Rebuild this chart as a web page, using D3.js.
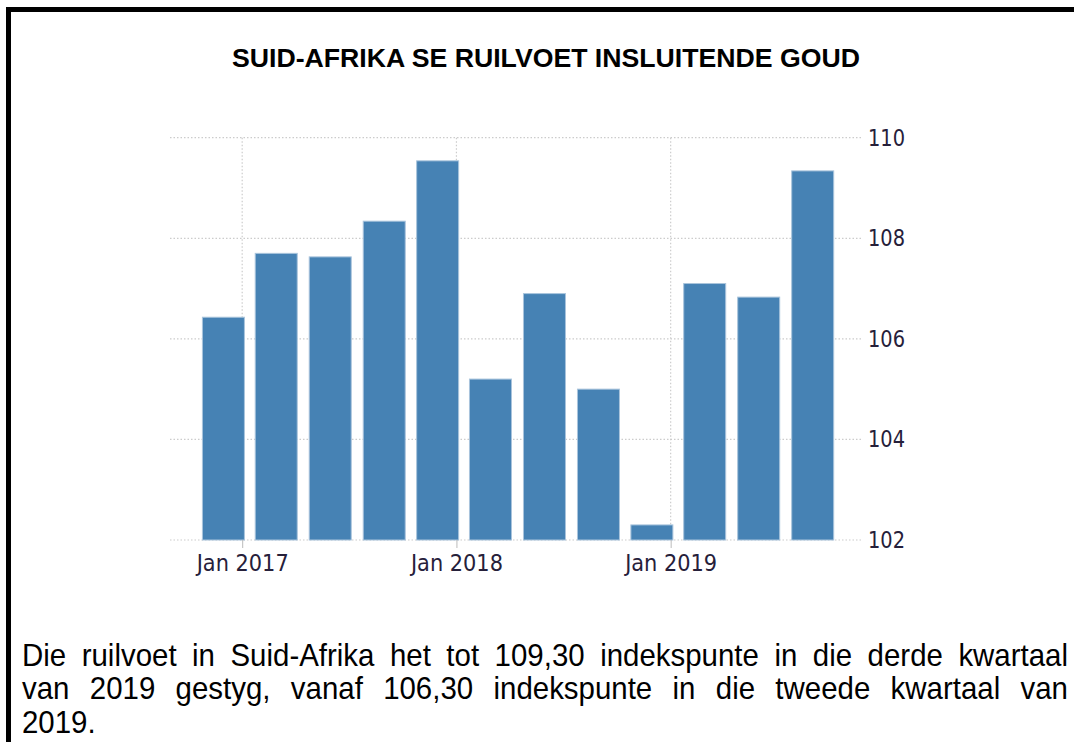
<!DOCTYPE html>
<html>
<head>
<meta charset="utf-8">
<script src="https://cdn.jsdelivr.net/npm/d3@7"></script>
<style>
  body { margin: 0; background: #fff; }
  svg { display: block; }
</style>
</head>
<body>
<div id="chart"></div>
<script>
// quarterly terms of trade incl. gold (index points)
var quarters = ["2016 K4", "2017 K1", "2017 K2", "2017 K3", "2017 K4", "2018 K1",
                "2018 K2", "2018 K3", "2018 K4", "2019 K1", "2019 K2", "2019 K3"];
var barDates = ["2016-11-30", "2017-02-28", "2017-05-31", "2017-08-31", "2017-11-30", "2018-02-28",
                "2018-05-31", "2018-08-31", "2018-11-30", "2019-02-28", "2019-05-31", "2019-08-31"];
var values = [106.43, 107.70, 107.63, 108.34, 109.54, 105.20,
              106.90, 105.00, 102.30, 107.10, 106.83, 109.34];
var yTicks = [102, 104, 106, 108, 110];
var xTicks = ["2017-01-01", "2018-01-01", "2019-01-01"];

var title = "SUID-AFRIKA SE RUILVOET INSLUITENDE GOUD";
var caption = [
  "Die ruilvoet in Suid-Afrika het tot 109,30 indekspunte in die derde kwartaal",
  "van 2019 gestyg, vanaf 106,30 indekspunte in die tweede kwartaal van",
  "2019."
];

var W = 1074, H = 742;
var parse = d3.timeParse("%Y-%m-%d");
var data = quarters.map(function(q, i) {
  return {q: q, date: parse(barDates[i]), value: values[i]};
});

var svg = d3.select("#chart").append("svg")
  .attr("width", W)
  .attr("height", H);

// frame (left + top edge only, as in the scan)
svg.append("path")
  .attr("d", "M8.5," + (H + 5) + "V9.5H" + (W + 5))
  .attr("fill", "none")
  .attr("stroke", "#000")
  .attr("stroke-width", 5);

// title
svg.append("text")
  .attr("x", 546)
  .attr("y", 67)
  .attr("text-anchor", "middle")
  .attr("font-family", "Arial, 'Liberation Sans', sans-serif")
  .attr("font-weight", "bold")
  .attr("font-size", 25)
  .attr("textLength", 628)
  .attr("lengthAdjust", "spacingAndGlyphs")
  .attr("fill", "#000")
  .text(title);

var plotL = 170, plotR = 862, plotT = 137.7, plotB = 540;

var x = d3.scaleTime()
  .domain([parse("2016-08-31"), parse("2019-11-23")])
  .range([plotL, plotR]);

var y = d3.scaleLinear()
  .domain([102, 110])
  .range([plotB, plotT]);

// grid
var grid = svg.append("g");
grid.selectAll(".hg")
  .data(yTicks)
  .enter().append("line")
  .attr("x1", plotL)
  .attr("x2", plotR)
  .attr("y1", function(d) { return y(d); })
  .attr("y2", function(d) { return y(d); })
  .attr("stroke", "#cccccc")
  .attr("stroke-width", 1.2)
  .attr("stroke-dasharray", "1.5,2");

grid.selectAll(".vg")
  .data(xTicks.map(parse))
  .enter().append("line")
  .attr("x1", function(d) { return x(d); })
  .attr("x2", function(d) { return x(d); })
  .attr("y1", plotT)
  .attr("y2", plotB)
  .attr("stroke", "#cccccc")
  .attr("stroke-width", 1.2)
  .attr("stroke-dasharray", "1.5,2");

// bars
var barW = 42;
svg.append("g")
  .selectAll("rect")
  .data(data)
  .enter().append("rect")
  .attr("x", function(d) { return x(d.date) - barW / 2; })
  .attr("y", function(d) { return y(d.value); })
  .attr("width", barW)
  .attr("height", function(d) { return y(102) - y(d.value); })
  .attr("fill", "#4682b4")
  .attr("stroke", "#a9c4dc")
  .attr("stroke-width", 1);

// x axis
var xAxis = svg.append("g")
  .attr("transform", "translate(0," + plotB + ")")
  .call(d3.axisBottom(x)
    .tickValues(xTicks.map(parse))
    .tickFormat(d3.timeFormat("Jan %Y"))
    .tickSize(8)
    .tickPadding(7));
xAxis.select(".domain").remove();
xAxis.selectAll(".tick line").attr("stroke", "#bbbbbb");
xAxis.selectAll(".tick text")
  .attr("font-family", "Tahoma, 'DejaVu Sans', sans-serif")
  .attr("font-size", 23)
  .attr("fill", "#26203a")
  .attr("textLength", 92)
  .attr("lengthAdjust", "spacingAndGlyphs");

// y axis on the right
var yAxis = svg.append("g")
  .attr("transform", "translate(" + plotR + ",0)")
  .call(d3.axisRight(y)
    .tickValues(yTicks)
    .tickSize(0)
    .tickPadding(6));
yAxis.select(".domain").remove();
yAxis.selectAll(".tick text")
  .attr("font-family", "Tahoma, 'DejaVu Sans', sans-serif")
  .attr("font-size", 23)
  .attr("fill", "#26203a")
  .attr("textLength", 37)
  .attr("lengthAdjust", "spacingAndGlyphs");

// caption below the chart: slightly narrow glyphs, justified lines
var capLeft = 22, capRight = 1068, capTop = 666, lineGap = 33.5;
var sx = 0.95;
var full = (capRight - capLeft) / sx;
var cap = svg.append("g")
  .attr("transform", "translate(" + capLeft + ",0) scale(" + sx + ",1)");
var lines = cap.selectAll("text")
  .data(caption)
  .enter().append("text")
  .attr("x", 0)
  .attr("y", function(d, i) { return capTop + i * lineGap; })
  .attr("font-family", "Arial, 'Liberation Sans', sans-serif")
  .attr("font-size", 31)
  .attr("fill", "#000")
  .text(function(d) { return d; });

lines.each(function(d, i) {
  if (i === caption.length - 1) return;
  var gaps = d.split(" ").length - 1;
  var extra = (full - this.getComputedTextLength()) / gaps;
  d3.select(this).attr("word-spacing", Math.max(0, extra));
});
</script>
</body>
</html>
